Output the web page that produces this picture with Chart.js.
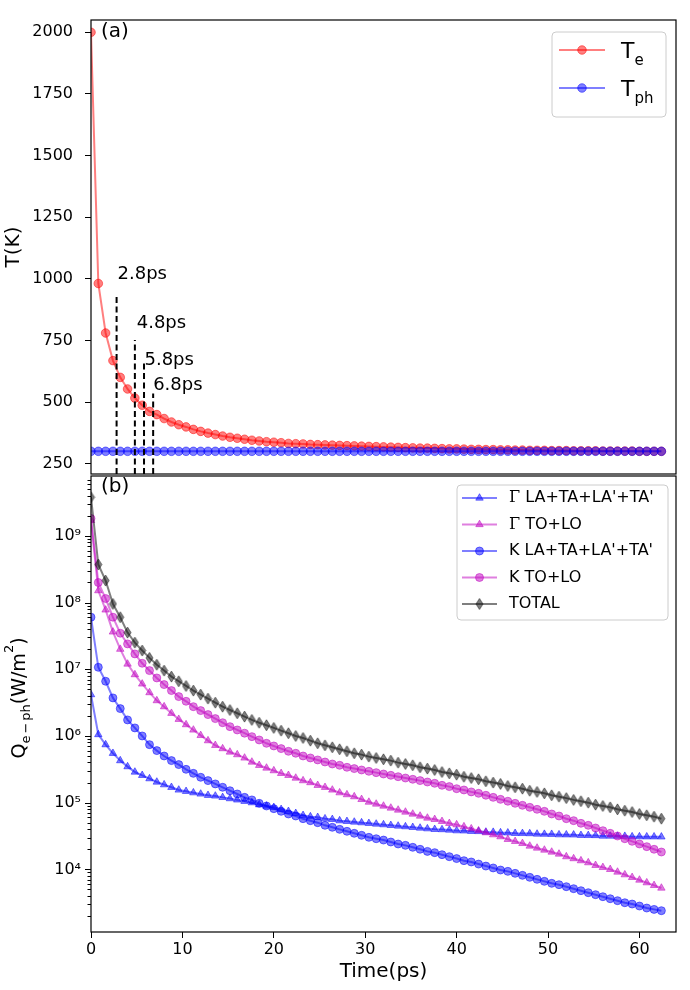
<!DOCTYPE html>
<html lang="en">
<head>
  <meta charset="UTF-8">
  <title>Te / Tph and Q e-ph</title>
  <script src="https://cdn.jsdelivr.net/npm/chart.js"></script>
  <style>
    body { margin: 0; background: #fff; }
    #wrap { position: relative; width: 690px; height: 990px; }
    #topChart { position: absolute; left: 0; top: 0; }
    #botChart { position: absolute; left: 0; top: 470px; }
  </style>
</head>
<body>
<div id="wrap">
  <canvas id="topChart" width="690" height="480"></canvas>
  <canvas id="botChart" width="690" height="520"></canvas>
</div>
<script>
// time axis (ps), one sample every 0.8 ps
const times = [0, 0.8, 1.6, 2.4, 3.2, 4.0, 4.8, 5.6, 6.4, 7.2, 8.0, 8.8, 9.6, 10.4, 11.2, 12.0,
  12.8, 13.6, 14.4, 15.2, 16.0, 16.8, 17.6, 18.4, 19.2, 20.0, 20.8, 21.6, 22.4, 23.2, 24.0, 24.8,
  25.6, 26.4, 27.2, 28.0, 28.8, 29.6, 30.4, 31.2, 32.0, 32.8, 33.6, 34.4, 35.2, 36.0, 36.8, 37.6,
  38.4, 39.2, 40.0, 40.8, 41.6, 42.4, 43.2, 44.0, 44.8, 45.6, 46.4, 47.2, 48.0, 48.8, 49.6, 50.4,
  51.2, 52.0, 52.8, 53.6, 54.4, 55.2, 56.0, 56.8, 57.6, 58.4, 59.2, 60.0, 60.8, 61.6, 62.4];

// panel (a): temperatures (K)
const tempElectron = [2000, 981, 780, 668, 600, 553, 516, 487, 462, 449, 433, 419, 408, 399, 389, 381,
  374, 368, 362, 357, 353, 349, 345, 342, 339, 337, 335, 332, 331, 330, 328, 327,
  326, 325, 324, 323, 322, 321, 320, 319, 318, 317, 316, 315, 314, 313, 313, 312,
  311, 310, 310, 309, 308, 308, 307, 307, 306, 306, 305, 305, 304, 304, 304, 303,
  303, 303, 302, 302, 302, 302, 301, 301, 301, 301, 301, 300, 300, 300, 300];
const tempPhonon = [300, 300, 300, 300, 300, 300, 300, 300, 300, 300, 300, 300, 300, 300, 300, 300,
  300, 300, 300, 300, 300, 300, 300, 300, 300, 300, 300, 300, 300, 300, 300, 300,
  300, 300, 300, 300, 300, 300, 300, 300, 300, 300, 300, 300, 300, 300, 300, 300,
  300, 300, 300, 300, 300, 300, 300, 300, 300, 300, 300, 300, 300, 300, 300, 300,
  300, 300, 300, 300, 300, 300, 300, 300, 300, 300, 300, 300, 300, 300, 300];

// marked times in panel (a)
const markTimes = [2.8, 4.8, 5.8, 6.8];
const markTops = [940, 752, 662, 535];
const markLabels = ['2.8ps', '4.8ps', '5.8ps', '6.8ps'];
const markLabelT = [2.9, 5.0, 5.85, 6.8];
const markLabelK = [1000, 800, 650, 550];

// panel (b): Q e-ph (W/m^2)
const qGammaAcoustic = [4.17e6, 1.05e6, 7.41e5, 5.50e5, 4.27e5, 3.47e5, 2.88e5, 2.57e5, 2.29e5, 2.04e5,
  1.86e5, 1.70e5, 1.55e5, 1.48e5, 1.41e5, 1.35e5, 1.29e5, 1.26e5, 1.20e5, 1.15e5,
  1.10e5, 1.05e5, 1.00e5, 9.33e4, 8.91e4, 8.51e4, 7.94e4, 7.41e4, 6.92e4, 6.46e4,
  6.17e4, 6.03e4, 5.75e4, 5.62e4, 5.37e4, 5.25e4, 5.13e4, 5.01e4, 4.90e4, 4.79e4,
  4.68e4, 4.57e4, 4.47e4, 4.37e4, 4.27e4, 4.17e4, 4.07e4, 3.98e4, 3.95e4, 3.89e4,
  3.80e4, 3.78e4, 3.72e4, 3.70e4, 3.63e4, 3.61e4, 3.55e4, 3.53e4, 3.47e4, 3.46e4,
  3.44e4, 3.39e4, 3.37e4, 3.36e4, 3.31e4, 3.30e4, 3.29e4, 3.24e4, 3.23e4, 3.22e4,
  3.16e4, 3.16e4, 3.15e4, 3.14e4, 3.09e4, 3.09e4, 3.08e4, 3.08e4, 3.07e4];
const qGammaOptical = [1.70e9, 1.51e8, 7.76e7, 3.63e7, 2.00e7, 1.20e7, 8.32e6, 6.03e6, 4.47e6, 3.39e6,
  2.75e6, 2.19e6, 1.78e6, 1.48e6, 1.23e6, 1.02e6, 8.51e5, 7.24e5, 6.46e5, 5.75e5,
  5.25e5, 4.68e5, 4.07e5, 3.63e5, 3.31e5, 3.02e5, 2.75e5, 2.57e5, 2.34e5, 2.14e5,
  2.00e5, 1.82e5, 1.70e5, 1.55e5, 1.41e5, 1.32e5, 1.23e5, 1.12e5, 1.02e5, 9.55e4,
  8.91e4, 8.32e4, 7.76e4, 7.24e4, 6.76e4, 6.31e4, 5.89e4, 5.62e4, 5.25e4, 4.90e4,
  4.68e4, 4.37e4, 4.07e4, 3.80e4, 3.55e4, 3.31e4, 3.09e4, 2.82e4, 2.63e4, 2.45e4,
  2.24e4, 2.09e4, 1.95e4, 1.82e4, 1.70e4, 1.55e4, 1.45e4, 1.35e4, 1.26e4, 1.15e4,
  1.07e4, 1.00e4, 9.12e3, 8.32e3, 7.59e3, 6.92e3, 6.31e3, 5.75e3, 5.25e3];
const qKAcoustic = [6.03e7, 1.07e7, 6.61e6, 3.72e6, 2.57e6, 1.74e6, 1.32e6, 1.00e6, 7.41e5, 6.03e5,
  5.01e5, 4.27e5, 3.72e5, 3.16e5, 2.75e5, 2.40e5, 2.14e5, 1.91e5, 1.70e5, 1.51e5,
  1.35e5, 1.20e5, 1.10e5, 9.77e4, 8.91e4, 8.13e4, 7.41e4, 6.76e4, 6.31e4, 5.75e4,
  5.37e4, 5.01e4, 4.57e4, 4.27e4, 3.98e4, 3.72e4, 3.47e4, 3.24e4, 3.02e4, 2.88e4,
  2.75e4, 2.57e4, 2.40e4, 2.29e4, 2.14e4, 2.00e4, 1.86e4, 1.78e4, 1.66e4, 1.55e4,
  1.45e4, 1.35e4, 1.29e4, 1.20e4, 1.12e4, 1.05e4, 9.77e3, 9.33e3, 8.71e3, 8.13e3,
  7.59e3, 7.08e3, 6.61e3, 6.17e3, 5.89e3, 5.50e3, 5.13e3, 4.79e3, 4.47e3, 4.17e3,
  3.89e3, 3.63e3, 3.39e3, 3.16e3, 3.02e3, 2.82e3, 2.63e3, 2.51e3, 2.40e3];
const qKOptical = [1.82e9, 2.00e8, 1.15e8, 6.03e7, 3.47e7, 2.40e7, 1.70e7, 1.23e7, 9.55e6, 7.41e6,
  5.89e6, 4.79e6, 3.89e6, 3.31e6, 2.75e6, 2.40e6, 2.09e6, 1.82e6, 1.58e6, 1.38e6,
  1.23e6, 1.10e6, 9.77e5, 8.71e5, 7.76e5, 7.08e5, 6.46e5, 5.89e5, 5.50e5, 5.01e5,
  4.68e5, 4.37e5, 4.07e5, 3.80e5, 3.63e5, 3.39e5, 3.24e5, 3.09e5, 2.95e5, 2.82e5,
  2.69e5, 2.57e5, 2.45e5, 2.34e5, 2.24e5, 2.14e5, 2.04e5, 1.95e5, 1.82e5, 1.74e5,
  1.62e5, 1.55e5, 1.45e5, 1.38e5, 1.29e5, 1.20e5, 1.12e5, 1.05e5, 9.77e4, 9.12e4,
  8.51e4, 7.94e4, 7.41e4, 6.76e4, 6.31e4, 5.75e4, 5.37e4, 4.90e4, 4.57e4, 4.17e4,
  3.80e4, 3.47e4, 3.16e4, 2.88e4, 2.63e4, 2.40e4, 2.19e4, 2.00e4, 1.82e4];
const qTotal = [3.80e9, 3.72e8, 2.14e8, 9.55e7, 6.03e7, 3.55e7, 2.51e7, 1.91e7, 1.48e7, 1.17e7,
  9.55e6, 7.76e6, 6.61e6, 5.62e6, 4.79e6, 4.17e6, 3.63e6, 3.16e6, 2.75e6, 2.45e6,
  2.19e6, 1.95e6, 1.74e6, 1.58e6, 1.45e6, 1.32e6, 1.20e6, 1.10e6, 1.00e6, 9.33e5,
  8.51e5, 7.76e5, 7.24e5, 6.76e5, 6.31e5, 5.89e5, 5.50e5, 5.25e5, 4.90e5, 4.68e5,
  4.47e5, 4.27e5, 3.98e5, 3.80e5, 3.63e5, 3.39e5, 3.24e5, 3.09e5, 2.88e5, 2.75e5,
  2.63e5, 2.45e5, 2.34e5, 2.24e5, 2.09e5, 2.00e5, 1.91e5, 1.78e5, 1.70e5, 1.62e5,
  1.51e5, 1.45e5, 1.38e5, 1.29e5, 1.23e5, 1.17e5, 1.10e5, 1.05e5, 1.00e5, 9.33e4,
  8.91e4, 8.51e4, 7.94e4, 7.59e4, 7.24e4, 6.76e4, 6.46e4, 6.17e4, 5.75e4];

// ticks
const timeTicks = [0, 10, 20, 30, 40, 50, 60];
const tempTicks = [250, 500, 750, 1000, 1250, 1500, 1750, 2000];
const qExponents = [3, 4, 5, 6, 7, 8, 9];

const FONT = '"DejaVu Sans", sans-serif';
Chart.defaults.font.family = FONT;
Chart.defaults.color = '#000';

const RED = 'rgba(255,0,0,0.5)';
const BLUE = 'rgba(0,0,255,0.5)';
const MAG = 'rgba(191,0,191,0.5)';
const BLK = 'rgba(0,0,0,0.5)';

function pts(ys) {
  return times.map((t, i) => ({ x: t, y: ys[i] }));
}

// matplotlib-like thin diamond marker
function thinDiamond(color) {
  const c = document.createElement('canvas');
  c.width = 9; c.height = 13;
  const g = c.getContext('2d');
  g.beginPath();
  g.moveTo(4.5, 1); g.lineTo(8, 6.5); g.lineTo(4.5, 12); g.lineTo(1, 6.5); g.closePath();
  g.fillStyle = color; g.fill();
  g.strokeStyle = color; g.lineWidth = 1; g.stroke();
  return c;
}
const diamond = thinDiamond(BLK);

function series(label, ys, color, style, r, order) {
  return {
    label: label, data: pts(ys), order: order,
    borderColor: color, borderWidth: 2,
    pointStyle: style, pointRadius: r, pointHoverRadius: r,
    pointBackgroundColor: color, pointBorderColor: color, pointBorderWidth: 1,
    tension: 0
  };
}

function marker(ctx, style, r, x, y, color) {
  ctx.save();
  ctx.fillStyle = color; ctx.strokeStyle = color; ctx.lineWidth = 1;
  if (typeof style === 'object') {
    ctx.drawImage(style, x - style.width / 2, y - style.height / 2);
  } else {
    ctx.beginPath();
    if (style === 'triangle') {
      ctx.moveTo(x, y - r);
      ctx.lineTo(x + 0.866 * r, y + 0.5 * r);
      ctx.lineTo(x - 0.866 * r, y + 0.5 * r);
      ctx.closePath();
    } else {
      ctx.arc(x, y, r, 0, Math.PI * 2);
    }
    ctx.fill(); ctx.stroke();
  }
  ctx.restore();
}

function legendBox(ctx, x, y, w, h) {
  ctx.save();
  ctx.beginPath();
  ctx.roundRect(x, y, w, h, 4);
  ctx.fillStyle = 'rgba(255,255,255,0.8)';
  ctx.fill();
  ctx.strokeStyle = '#cccccc';
  ctx.lineWidth = 1;
  ctx.stroke();
  ctx.restore();
}

function legendSample(ctx, ds, x0, x1, y) {
  ctx.save();
  ctx.strokeStyle = ds.borderColor; ctx.lineWidth = ds.borderWidth;
  ctx.beginPath(); ctx.moveTo(x0, y); ctx.lineTo(x1, y); ctx.stroke();
  ctx.restore();
  marker(ctx, ds.pointStyle, ds.pointRadius, (x0 + x1) / 2, y, ds.pointBackgroundColor);
}

function frame(ctx, a) {
  ctx.save();
  ctx.strokeStyle = '#000';
  ctx.lineWidth = 1.2;
  ctx.strokeRect(a.left, a.top, a.right - a.left, a.bottom - a.top);
  ctx.restore();
}

// ---------- panel (a) ----------
const topDatasets = [
  series('Te', tempElectron, RED, 'circle', 4.3, 2),
  series('Tph', tempPhonon, BLUE, 'circle', 4.3, 1)
];
markTimes.forEach((t, i) => {
  topDatasets.push({
    label: markLabels[i], data: [{ x: t, y: 208 }, { x: t, y: markTops[i] }], order: 0,
    borderColor: '#000', borderWidth: 2, borderDash: [6, 3.5], pointRadius: 0, pointHoverRadius: 0
  });
});

const topPlugin = {
  id: 'topDecor',
  afterDraw(chart) {
    const ctx = chart.ctx, a = chart.chartArea;
    const xs = chart.scales.x, ys = chart.scales.y;
    frame(ctx, a);
    ctx.save();
    ctx.fillStyle = '#000';
    ctx.textBaseline = 'alphabetic';
    ctx.font = '20px ' + FONT;
    ctx.fillText('(a)', 101, 37);
    ctx.font = '18px ' + FONT;
    markLabels.forEach((s, i) => {
      ctx.fillText(s, xs.getPixelForValue(markLabelT[i]), ys.getPixelForValue(markLabelK[i]));
    });
    ctx.restore();

    // legend
    legendBox(ctx, 552, 32, 114, 85);
    const rows = [[50, 'e'], [88, 'ph']];
    rows.forEach((r, i) => {
      legendSample(ctx, chart.data.datasets[i], 559, 605, r[0]);
      ctx.save();
      ctx.fillStyle = '#000';
      ctx.font = '22px ' + FONT;
      ctx.fillText('T', 621, r[0] + 8);
      const w = ctx.measureText('T').width;
      ctx.font = '15px ' + FONT;
      ctx.fillText(r[1], 621 + w, r[0] + 15);
      ctx.restore();
    });
  }
};

new Chart(document.getElementById('topChart'), {
  type: 'line',
  data: { datasets: topDatasets },
  options: {
    responsive: false,
    animation: false,
    events: [],
    layout: { padding: { top: 20, right: 14, bottom: 6, left: 0 } },
    plugins: { legend: { display: false }, tooltip: { enabled: false } },
    scales: {
      x: {
        type: 'linear', min: 0, max: 64, display: false,
        afterBuildTicks: s => { s.ticks = timeTicks.map(v => ({ value: v })); }
      },
      y: {
        type: 'linear', min: 208, max: 2050,
        afterBuildTicks: s => { s.ticks = tempTicks.map(v => ({ value: v })); },
        afterFit: s => { s.width = 91; s.paddingTop = 0; s.paddingBottom = 0; },
        border: { display: false },
        grid: { drawOnChartArea: false, drawTicks: true, tickLength: 6, tickColor: '#000', tickWidth: 1 },
        ticks: { font: { size: 16 }, padding: 12, callback: v => String(v) },
        title: { display: true, text: 'T(K)', font: { size: 20 }, padding: { top: 2, bottom: 0 } }
      }
    }
  },
  plugins: [topPlugin]
});

// ---------- panel (b) ----------
const botDatasets = [
  series("Γ LA+TA+LA'+TA'", qGammaAcoustic, BLUE, 'triangle', 4.3, 4),
  series('Γ TO+LO', qGammaOptical, MAG, 'triangle', 4.3, 3),
  series("K LA+TA+LA'+TA'", qKAcoustic, BLUE, 'circle', 4, 2),
  series('K TO+LO', qKOptical, MAG, 'circle', 4, 1),
  series('TOTAL', qTotal, BLK, diamond, 5, 0)
];

const qTicks = [];
qExponents.forEach(e => {
  for (let m = 1; m <= 9; m++) {
    const v = Number(m + 'e' + e);
    if (v >= 1150 && v <= 7.9e9) qTicks.push({ value: v, major: m === 1 });
  }
});
const SUP = { 3: '³', 4: '⁴', 5: '⁵', 6: '⁶', 7: '⁷', 8: '⁸', 9: '⁹' };

const botPlugin = {
  id: 'botDecor',
  afterDraw(chart) {
    const ctx = chart.ctx, a = chart.chartArea, ys = chart.scales.y;
    frame(ctx, a);
    // major / minor tick marks on the log axis
    ctx.save();
    ctx.strokeStyle = '#000'; ctx.lineWidth = 1;
    ctx.beginPath();
    ys.ticks.forEach(t => {
      const py = Math.round(ys.getPixelForValue(t.value)) + 0.5;
      const len = t.major ? 6 : 3.5;
      ctx.moveTo(a.left - len, py); ctx.lineTo(a.left, py);
    });
    ctx.stroke();
    ctx.fillStyle = '#000';
    ctx.font = '20px ' + FONT;
    ctx.fillText('(b)', 101, 22);

    // y label Q_{e-ph}(W/m^2), rotated
    const big = '19px ' + FONT, small = '13px ' + FONT;
    const parts = [['Q', big, 0, 0], ['e', small, 5, 2], ['−', small, 5, 2], ['ph', small, 5, 0],
      ['(W/m', big, 0, 0], ['2', small, -12, 0], [')', big, 0, 0]];
    let total = 0;
    parts.forEach(p => { ctx.font = p[1]; total += ctx.measureText(p[0]).width + p[3]; });
    ctx.translate(25, 228 + total / 2);
    ctx.rotate(-Math.PI / 2);
    let x = 0;
    parts.forEach(p => {
      ctx.font = p[1];
      ctx.fillText(p[0], x, p[2]);
      x += ctx.measureText(p[0]).width + p[3];
    });
    ctx.restore();

    // legend
    legendBox(ctx, 457, 15, 211, 135);
    const rowY = [28, 54.5, 81, 107.5, 134];
    chart.data.datasets.forEach((ds, i) => {
      const y = rowY[i];
      legendSample(ctx, ds, 462, 497, y);
      ctx.save();
      ctx.fillStyle = '#000';
      ctx.textBaseline = 'middle';
      let tx = 509;
      let text = ds.label;
      if (text.startsWith('Γ')) {
        ctx.font = '16px "DejaVu Serif", serif';
        ctx.fillText('Γ', tx, y);
        tx += ctx.measureText('Γ').width;
        text = text.slice(1);
      }
      ctx.font = '16px ' + FONT;
      ctx.fillText(text, tx, y);
      ctx.restore();
    });
  }
};

new Chart(document.getElementById('botChart'), {
  type: 'line',
  data: { datasets: botDatasets },
  options: {
    responsive: false,
    animation: false,
    events: [],
    layout: { padding: { top: 4, right: 14, bottom: 0, left: 0 } },
    plugins: { legend: { display: false }, tooltip: { enabled: false } },
    scales: {
      x: {
        type: 'linear', min: 0, max: 64,
        afterBuildTicks: s => { s.ticks = timeTicks.map(v => ({ value: v })); },
        afterFit: s => { s.height = 58; s.paddingLeft = 0; s.paddingRight = 0; },
        border: { display: false },
        grid: { drawOnChartArea: false, drawTicks: true, tickLength: 6, tickColor: '#000', tickWidth: 1 },
        ticks: { font: { size: 16 }, padding: 2, maxRotation: 0, autoSkip: false },
        title: { display: true, text: 'Time(ps)', font: { size: 20 }, padding: { top: 0, bottom: 6 } }
      },
      y: {
        type: 'logarithmic', min: 1150, max: 7.9e9,
        afterBuildTicks: s => { s.ticks = qTicks.map(t => ({ value: t.value, major: t.major })); },
        afterFit: s => { s.width = 91; s.paddingTop = 0; s.paddingBottom = 0; },
        border: { display: false },
        grid: { drawOnChartArea: false, drawTicks: true, tickLength: 6, tickColor: 'rgba(0,0,0,0)' },
        ticks: {
          font: { size: 16 }, padding: 4, autoSkip: false,
          callback: (v, i, ticks) => ticks[i].major ? '10' + SUP[Math.round(Math.log10(v))] : ''
        }
      }
    }
  },
  plugins: [botPlugin]
});
</script>
</body>
</html>
